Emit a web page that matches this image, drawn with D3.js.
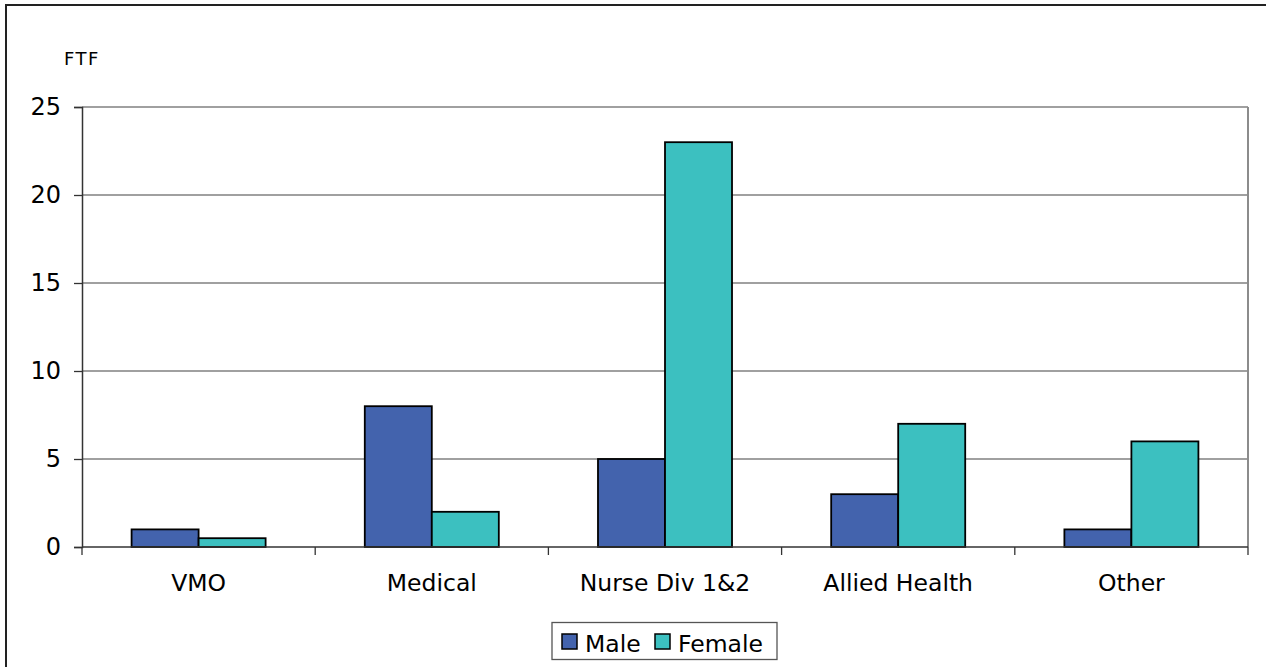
<!DOCTYPE html>
<html>
<head>
<meta charset="utf-8">
<script src="https://cdn.jsdelivr.net/npm/d3@7"></script>
<style>
  html, body { margin: 0; padding: 0; background: #fff; }
  svg { display: block; font-family: "DejaVu Sans", Verdana, sans-serif; }
</style>
</head>
<body>
<svg id="chart" width="1266" height="667"></svg>
<script>
// Staff FTE by occupation group and gender
const categories = ["VMO", "Medical", "Nurse Div 1&2", "Allied Health", "Other"];
const seriesNames = ["Male", "Female"];
const maleValues = [1, 8, 5, 3, 1];
const femaleValues = [0.5, 2, 23, 7, 6];
const yTicks = [0, 5, 10, 15, 20, 25];
const colors = ["#4363ad", "#3cc0c0"];

const seriesValues = [maleValues, femaleValues];
const rows = categories.map((c, i) => ({
  category: c,
  values: seriesNames.map((s, j) => ({ series: s, value: seriesValues[j][i] }))
}));

const svg = d3.select("#chart");

const plot = { left: 82, right: 1248, top: 107, bottom: 547 };

// outer frame (runs off the right and bottom edges)
svg.append("rect")
  .attr("x", 6).attr("y", 5)
  .attr("width", 1300).attr("height", 700)
  .attr("fill", "none").attr("stroke", "#222").attr("stroke-width", 2);

const y = d3.scaleLinear().domain([0, 25]).range([plot.bottom, plot.top]);
const x0 = d3.scaleBand().domain(categories).range([plot.left, plot.right]).padding(0);
const x1 = d3.scaleBand().domain(seriesNames).range([0, x0.bandwidth()])
  .paddingInner(0).paddingOuter(0.74);
const color = d3.scaleOrdinal().domain(seriesNames).range(colors);

// gridlines
svg.append("g")
  .selectAll("line")
  .data(yTicks.filter(t => t > 0))
  .join("line")
  .attr("x1", plot.left).attr("x2", plot.right)
  .attr("y1", d => y(d)).attr("y2", d => y(d))
  .attr("stroke", "#808080").attr("stroke-width", 1.3);

// right edge of the plot area
svg.append("line")
  .attr("x1", plot.right).attr("x2", plot.right)
  .attr("y1", plot.top).attr("y2", plot.bottom)
  .attr("stroke", "#8c8c8c").attr("stroke-width", 2);

// bars
svg.append("g")
  .selectAll("g")
  .data(rows)
  .join("g")
  .attr("transform", d => `translate(${x0(d.category)},0)`)
  .selectAll("rect")
  .data(d => d.values)
  .join("rect")
  .attr("x", d => x1(d.series))
  .attr("y", d => y(d.value))
  .attr("width", x1.bandwidth())
  .attr("height", d => y(0) - y(d.value))
  .attr("fill", d => color(d.series))
  .attr("stroke", "#000")
  .attr("stroke-width", 1.8);

// y axis
const yAxis = svg.append("g")
  .attr("transform", `translate(${plot.left},0)`)
  .call(d3.axisLeft(y).tickValues(yTicks).tickSize(8).tickPadding(13).tickFormat(d3.format("d")));
yAxis.select(".domain").attr("stroke", "#333").attr("stroke-width", 1.5);
yAxis.selectAll(".tick line").attr("stroke", "#333").attr("stroke-width", 1.3);
yAxis.selectAll(".tick text")
  .attr("font-size", 24).attr("fill", "#000")
  .attr("font-family", "'DejaVu Sans', Verdana, sans-serif");

// x axis: ticks sit on the category boundaries
const boundaries = categories.map(c => x0(c)).concat([plot.right]);
svg.append("line")
  .attr("x1", plot.left).attr("x2", plot.right)
  .attr("y1", plot.bottom).attr("y2", plot.bottom)
  .attr("stroke", "#333").attr("stroke-width", 1.5);
svg.append("g")
  .selectAll("line")
  .data(boundaries)
  .join("line")
  .attr("x1", d => d).attr("x2", d => d)
  .attr("y1", plot.bottom).attr("y2", plot.bottom + 8)
  .attr("stroke", "#333").attr("stroke-width", 1.3);
svg.append("g")
  .selectAll("text")
  .data(categories)
  .join("text")
  .attr("x", d => x0(d) + x0.bandwidth() / 2)
  .attr("y", 591)
  .attr("text-anchor", "middle")
  .attr("font-size", 23.5)
  .attr("fill", "#000")
  .text(d => d);

// unit label
svg.append("text")
  .attr("x", 64).attr("y", 65)
  .attr("font-size", 18)
  .attr("letter-spacing", 1.5)
  .attr("fill", "#000")
  .text("FTF");

// legend
const legend = svg.append("g");
legend.append("rect")
  .attr("x", 552).attr("y", 622.5)
  .attr("width", 225).attr("height", 37)
  .attr("fill", "#fff").attr("stroke", "#555").attr("stroke-width", 1.3);
const legendX = [562, 655];
const items = legend.selectAll("g.item")
  .data(seriesNames)
  .join("g")
  .attr("class", "item")
  .attr("transform", (d, i) => `translate(${legendX[i]},634)`);
items.append("rect")
  .attr("width", 15).attr("height", 15)
  .attr("fill", d => color(d))
  .attr("stroke", "#000").attr("stroke-width", 1.5);
items.append("text")
  .attr("x", 23).attr("y", 17.5)
  .attr("font-size", 23.5)
  .attr("fill", "#000")
  .text(d => d);
</script>
</body>
</html>
